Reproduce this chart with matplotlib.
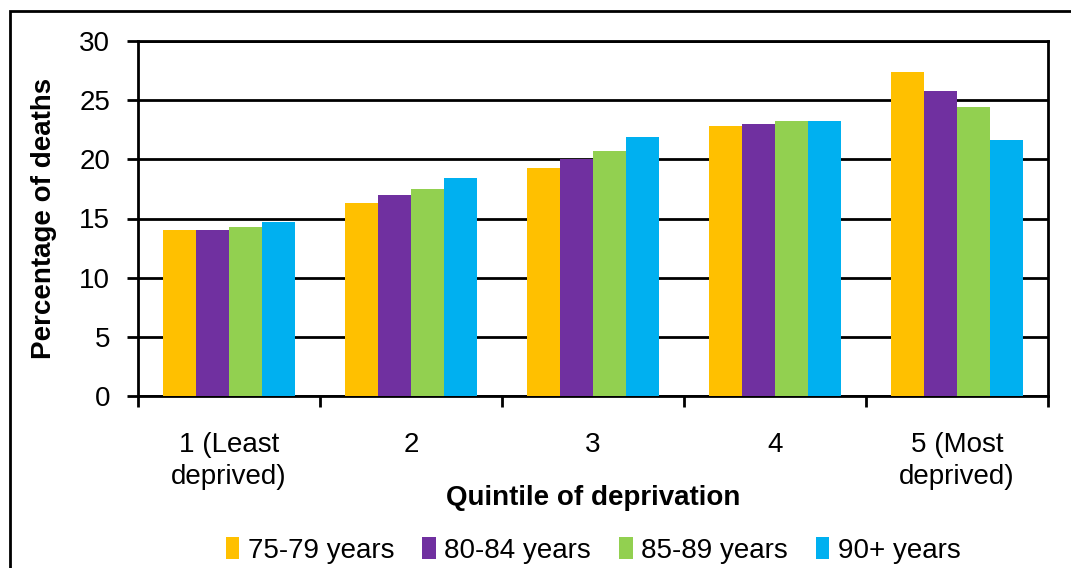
import numpy as np
import matplotlib.pyplot as plt
from matplotlib.patches import Rectangle

plt.rcParams['font.family'] = ['Liberation Sans', 'DejaVu Sans']

quintiles = ["1 (Least\ndeprived)", "2", "3", "4", "5 (Most\ndeprived)"]
age_groups = ["75-79 years", "80-84 years", "85-89 years", "90+ years"]
pct_75_79 = [14.0, 16.3, 19.3, 22.8, 27.4]
pct_80_84 = [14.0, 17.0, 20.0, 23.0, 25.8]
pct_85_89 = [14.3, 17.5, 20.7, 23.25, 24.4]
pct_90plus = [14.7, 18.4, 21.9, 23.25, 21.65]
colors = ["#FFC000", "#7030A0", "#92D050", "#00B0F0"]

series = [pct_75_79, pct_80_84, pct_85_89, pct_90plus]

fig = plt.figure(figsize=(10.71, 5.68), dpi=100)
ax = fig.add_axes([138/1071, 1-396/568, (1048-138)/1071, (396-41)/568])

x = np.arange(len(quintiles))
w = 0.181
for i, (vals, lab, c) in enumerate(zip(series, age_groups, colors)):
    ax.bar(x + (i - 1.5) * w, vals, w, color=c, label=lab, zorder=3)

ax.set_ylim(0, 30)
ax.set_xlim(-0.5, 4.5)
ax.set_yticks(range(0, 31, 5))
ax.yaxis.grid(True, color='black', linewidth=2, zorder=0)
ax.set_xticks(x)
ax.set_xticklabels(quintiles, fontsize=20, linespacing=1.3)
ax.set_xticks(np.arange(-0.5, 5, 1), minor=True)
ax.tick_params(axis='x', which='major', length=0, pad=26)
ax.tick_params(axis='x', which='minor', length=8, width=2, direction='out')
ax.tick_params(axis='y', length=8, width=2, labelsize=20, pad=12)
for s in ax.spines.values():
    s.set_linewidth(2)

ax.set_ylabel("Percentage of deaths", fontsize=20, fontweight='bold', labelpad=16)
ax.set_xlabel("Quintile of deprivation", fontsize=20, fontweight='bold', labelpad=-4)

ax.legend(loc='center', bbox_to_anchor=(0.5, -0.435), ncol=4, frameon=False,
          fontsize=20, handlelength=0.5, handleheight=0.8, handletextpad=0.3,
          columnspacing=1.0, borderpad=0)

fig.patches.append(Rectangle((10/1071, -0.1), 1.2, 1-11/568+0.1, transform=fig.transFigure,
                             fill=False, edgecolor='black', linewidth=2))

fig.savefig("out.png", dpi=100)
